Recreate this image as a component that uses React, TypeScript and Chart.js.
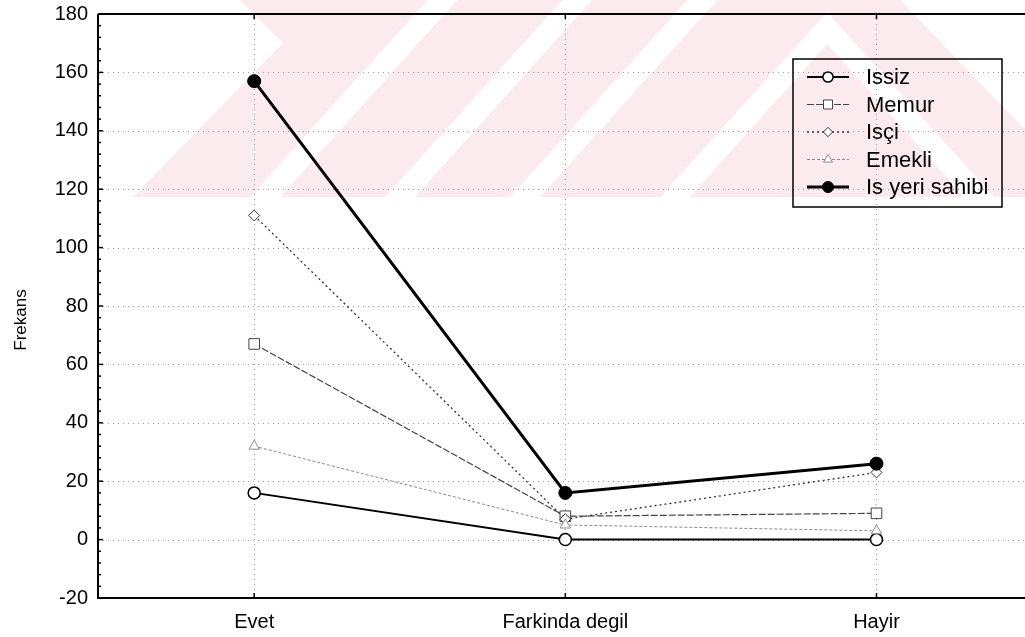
import React, { useEffect, useRef } from 'react';
import { Chart, registerables } from 'chart.js';

Chart.register(...registerables);

const categories = ['Evet', 'Farkinda degil', 'Hayir'];
const issiz = [16, 0, 0];
const memur = [67, 8, 9];
const isci = [111, 7, 23];
const emekli = [32, 5, 3];
const isYeriSahibi = [157, 16, 26];
const seriesNames = ['Issiz', 'Memur', 'Isçi', 'Emekli', 'Is yeri sahibi'];
const yTicks = [-20, 0, 20, 40, 60, 80, 100, 120, 140, 160, 180];
const yTitle = 'Frekans';

const FONT = '"Liberation Sans", Arial, sans-serif';

type Style = {
  color: string;
  width: number;
  dash: number[];
  point: string;
  radius: number;
  fill: string;
  pw: number;
};

const styles: Style[] = [
  { color: '#000', width: 2, dash: [], point: 'circle', radius: 6, fill: '#fff', pw: 1.5 },
  { color: '#444', width: 1.2, dash: [7, 2], point: 'rect', radius: 7.5, fill: '#fff', pw: 1 },
  { color: '#333', width: 1.3, dash: [2, 3], point: 'rectRot', radius: 5.5, fill: '#fff', pw: 1 },
  { color: '#8a8a8a', width: 1, dash: [3, 2], point: 'triangle', radius: 6, fill: '#fff', pw: 1 },
  { color: '#000', width: 3, dash: [], point: 'circle', radius: 6.5, fill: '#000', pw: 1 },
];

function drawMarker(ctx: CanvasRenderingContext2D, s: Style, x: number, y: number, scale = 1) {
  const r = s.radius * scale;
  ctx.save();
  ctx.setLineDash([]);
  ctx.lineWidth = s.pw;
  ctx.strokeStyle = s.color;
  ctx.fillStyle = s.fill;
  ctx.beginPath();
  if (s.point === 'circle') {
    ctx.arc(x, y, r, 0, Math.PI * 2);
  } else if (s.point === 'rect') {
    const h = r * Math.SQRT1_2;
    ctx.rect(x - h, y - h, 2 * h, 2 * h);
  } else if (s.point === 'rectRot') {
    ctx.moveTo(x, y - r);
    ctx.lineTo(x + r, y);
    ctx.lineTo(x, y + r);
    ctx.lineTo(x - r, y);
    ctx.closePath();
  } else {
    const a = (r * Math.sqrt(3)) / 2;
    ctx.moveTo(x, y - r);
    ctx.lineTo(x + a, y + r / 2);
    ctx.lineTo(x - a, y + r / 2);
    ctx.closePath();
  }
  ctx.fill();
  ctx.stroke();
  ctx.restore();
}

const watermarkPlugin = {
  id: 'watermark',
  beforeDraw(chart: any) {
    const ctx: CanvasRenderingContext2D = chart.ctx;
    ctx.save();
    ctx.fillStyle = '#fff';
    ctx.fillRect(0, 0, chart.width, chart.height);
    ctx.beginPath();
    ctx.rect(0, 0, chart.width, 197);
    ctx.clip();
    ctx.fillStyle = '#fcebee';
    ctx.beginPath();
    ctx.moveTo(240, 0);
    ctx.lineTo(283, 43);
    ctx.lineTo(133, 197);
    ctx.lineTo(1025, 197);
    ctx.lineTo(1025, 130);
    ctx.lineTo(900, 0);
    ctx.closePath();
    ctx.fill();
    ctx.fillStyle = '#fff';
    const s = 0.9;
    const w = 30;
    [265, 400, 525].forEach((b) => {
      ctx.beginPath();
      ctx.moveTo(b - w / 2, 197);
      ctx.lineTo(b + w / 2, 197);
      ctx.lineTo(b + w / 2 + s * 197, 0);
      ctx.lineTo(b - w / 2 + s * 197, 0);
      ctx.closePath();
      ctx.fill();
    });
    const b = 675;
    const apexY = 28;
    const apexX = b + s * (197 - apexY);
    ctx.beginPath();
    ctx.moveTo(b - w / 2, 197);
    ctx.lineTo(apexX, apexY - 16);
    ctx.lineTo(apexX + (apexX - b) + w / 2, 197);
    ctx.lineTo(apexX + (apexX - b) - w / 2, 197);
    ctx.lineTo(apexX, apexY + 16);
    ctx.lineTo(b + w / 2, 197);
    ctx.closePath();
    ctx.fill();
    ctx.restore();
  },
};

const framePlugin = {
  id: 'frame',
  beforeDatasetsDraw(chart: any) {
    const ctx: CanvasRenderingContext2D = chart.ctx;
    const { left, right, top, bottom } = chart.chartArea;
    const xs = chart.scales.x;
    const ys = chart.scales.y;
    ctx.save();
    ctx.strokeStyle = '#9a9a9a';
    ctx.lineWidth = 1;
    ctx.setLineDash([1, 4]);
    yTicks.forEach((v) => {
      const y = Math.round(ys.getPixelForValue(v)) + 0.5;
      ctx.beginPath();
      ctx.moveTo(left, y);
      ctx.lineTo(chart.width, y);
      ctx.stroke();
    });
    categories.forEach((_, i) => {
      const x = Math.round(xs.getPixelForValue(i)) + 0.5;
      ctx.beginPath();
      ctx.moveTo(x, top);
      ctx.lineTo(x, bottom);
      ctx.stroke();
    });
    ctx.restore();
  },
  afterDatasetsDraw(chart: any) {
    const ctx: CanvasRenderingContext2D = chart.ctx;
    const { left, top, bottom } = chart.chartArea;
    const right = chart.width;
    const xs = chart.scales.x;
    const ys = chart.scales.y;
    ctx.save();
    ctx.setLineDash([]);
    ctx.strokeStyle = '#000';
    ctx.lineWidth = 2;
    ctx.beginPath();
    ctx.moveTo(left, top);
    ctx.lineTo(right, top);
    ctx.moveTo(left, top);
    ctx.lineTo(left, bottom);
    ctx.lineTo(right, bottom);
    ctx.stroke();
    ctx.lineWidth = 1.5;
    for (let v = -20; v <= 180; v += 4) {
      const y = ys.getPixelForValue(v);
      ctx.beginPath();
      ctx.moveTo(left, y);
      ctx.lineTo(left + (v % 20 === 0 ? 5 : 3), y);
      ctx.stroke();
    }
    categories.forEach((_, i) => {
      const x = xs.getPixelForValue(i);
      ctx.beginPath();
      ctx.moveTo(x, bottom);
      ctx.lineTo(x, bottom - 5);
      ctx.moveTo(x, top);
      ctx.lineTo(x, top + 5);
      ctx.stroke();
    });
    ctx.fillStyle = '#000';
    ctx.font = `17px ${FONT}`;
    ctx.textAlign = 'center';
    ctx.textBaseline = 'middle';
    ctx.translate(21, 320);
    ctx.rotate(-Math.PI / 2);
    ctx.fillText(yTitle, 0, 0);
    ctx.restore();
  },
  afterDraw(chart: any) {
    const ctx: CanvasRenderingContext2D = chart.ctx;
    const bx = 793;
    const by = 59;
    const bw = 209;
    const bh = 148;
    ctx.save();
    ctx.strokeStyle = '#000';
    ctx.lineWidth = 1.5;
    ctx.setLineDash([]);
    ctx.strokeRect(bx, by, bw, bh);
    seriesNames.forEach((name, i) => {
      const y = by + 18 + i * 27.5;
      const s = styles[i];
      ctx.save();
      ctx.strokeStyle = s.color;
      ctx.lineWidth = s.width;
      ctx.setLineDash(s.dash);
      ctx.beginPath();
      ctx.moveTo(807, y);
      ctx.lineTo(849, y);
      ctx.stroke();
      ctx.restore();
      drawMarker(ctx, s, 828, y, 0.85);
      ctx.fillStyle = '#000';
      ctx.font = `22px ${FONT}`;
      ctx.textAlign = 'left';
      ctx.textBaseline = 'middle';
      ctx.fillText(name, 866, y + 1);
    });
    ctx.restore();
  },
};

export default function App() {
  const ref = useRef<HTMLCanvasElement>(null);
  useEffect(() => {
    if (!ref.current) return;
    const series = [issiz, memur, isci, emekli, isYeriSahibi];
    const chart = new Chart(ref.current, {
      type: 'line',
      data: {
        datasets: series.map((vals, i) => {
          const s = styles[i];
          return {
            label: seriesNames[i],
            data: vals.map((v, j) => ({ x: j, y: v })),
            borderColor: s.color,
            borderWidth: s.width,
            borderDash: s.dash,
            pointStyle: s.point as any,
            pointRadius: s.radius,
            pointBackgroundColor: s.fill,
            pointBorderColor: s.color,
            pointBorderWidth: s.pw,
            tension: 0,
            fill: false,
            order: series.length - i,
          };
        }),
      },
      options: {
        responsive: false,
        animation: false,
        layout: { padding: { top: 14, left: 0, right: 0, bottom: 0 } },
        plugins: { legend: { display: false }, tooltip: { enabled: false } },
        scales: {
          x: {
            type: 'linear',
            min: -0.502,
            max: 2.45,
            afterBuildTicks: (axis: any) => {
              axis.ticks = categories.map((_, i) => ({ value: i }));
            },
            afterFit: (s: any) => {
              s.height = 39;
              s.paddingLeft = 0;
              s.paddingRight = 0;
            },
            grid: { display: false, drawTicks: false },
            border: { display: false },
            ticks: {
              autoSkip: false,
              maxRotation: 0,
              padding: 12,
              color: '#000',
              font: { family: FONT, size: 20 },
              callback: (v: any) => categories[v as number] ?? '',
            },
          },
          y: {
            min: -20,
            max: 180,
            afterBuildTicks: (axis: any) => {
              axis.ticks = yTicks.map((v) => ({ value: v }));
            },
            afterFit: (s: any) => {
              s.width = 98;
              s.paddingTop = 0;
              s.paddingBottom = 0;
            },
            grid: { display: false, drawTicks: false },
            border: { display: false },
            ticks: {
              padding: 10,
              color: '#000',
              font: { family: FONT, size: 20 },
            },
          },
        },
      },
      plugins: [watermarkPlugin, framePlugin],
    } as any);
    return () => chart.destroy();
  }, []);
  return (
    <div style={{ position: 'absolute', left: 0, top: 0, width: 1025, height: 637 }}>
      <canvas ref={ref} width={1025} height={637} style={{ display: 'block' }} />
    </div>
  );
}
